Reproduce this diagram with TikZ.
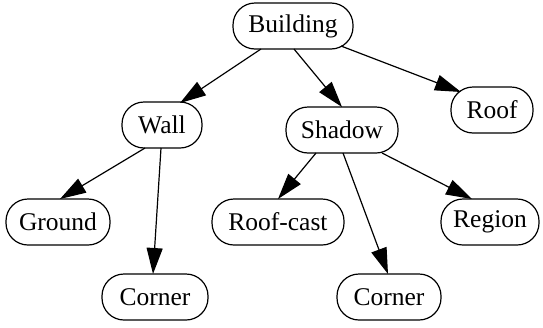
\documentclass[tikz,border=0pt]{standalone}
\usepackage{fontspec}
\setmainfont{Liberation Serif}
\usetikzlibrary{arrows.meta,calc}
\begin{document}
\begin{tikzpicture}[x=1pt,y=-1pt,
  box/.style={draw,line width=1.2pt,rounded corners=22pt,minimum height=46pt,inner sep=0pt,
    font=\fontsize{25.5}{30}\selectfont},
  edge/.style={line width=1.2pt,-{Triangle[length=26pt,width=16pt]}}]
\useasboundingbox (0,0) rectangle (543,327);
\node[box,minimum width=120pt] (b) at (293,26) {Building};
\node[box,minimum width=80pt] (w) at (162,125) {Wall};
\node[box,minimum width=112pt] (s) at (342,130) {Shadow};
\node[box,minimum width=82pt] (r) at (492,110) {Roof};
\node[box,minimum width=104pt] (g) at (58,222) {Ground};
\node[box,minimum width=132pt] (rc) at (278,222) {Roof-cast};
\node[box,minimum width=98pt] (rg) at (490,222) {Region};
\node[box,minimum width=106pt] (c1) at (155,297) {Corner};
\node[box,minimum width=104pt] (c2) at (389,297) {Corner};
\draw[edge] ($(b)+(-32,23)$) -- ($(w)+(18,-22)$);
\draw[edge] ($(b)+(1,23)$) -- ($(s)+(0,-23)$);
\draw[edge] ($(b)+(48,20)$) -- ($(r)+(-31,-18)$);
\draw[edge] ($(w)+(-17,23)$) -- ($(g)+(2,-23)$);
\draw[edge] ($(w)+(-1,23)$) -- ($(c1)+(-2,-23)$);
\draw[edge] ($(s)+(-26,23)$) -- ($(rc)+(0,-23)$);
\draw[edge] ($(s)+(1,23)$) -- ($(c2)+(-1,-23)$);
\draw[edge] ($(s)+(40,23)$) -- ($(rg)+(-18,-23)$);
\end{tikzpicture}
\end{document}
